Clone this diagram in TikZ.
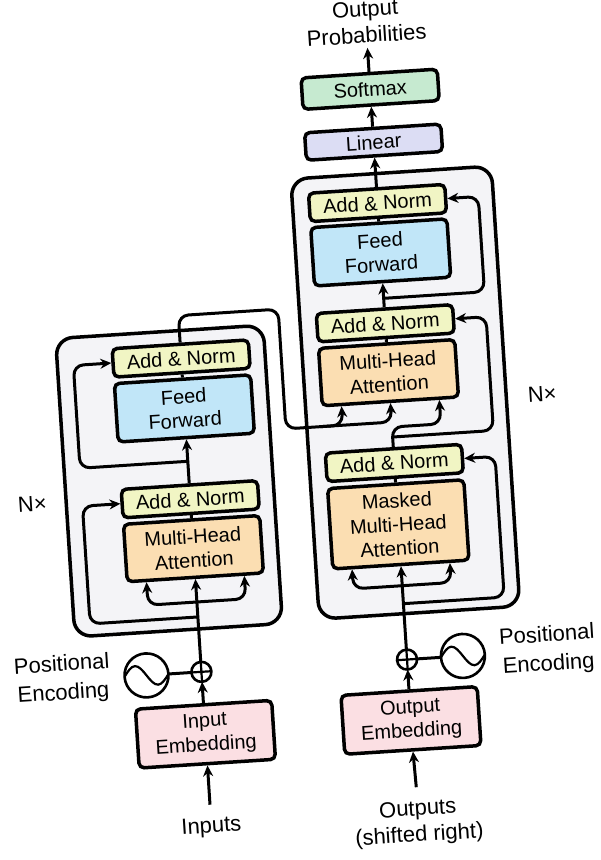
\documentclass[tikz,border=0pt]{standalone}
\usepackage{fontspec}
\setmainfont{Liberation Sans}
\usetikzlibrary{arrows.meta}
\definecolor{normfill}{RGB}{241,245,196}
\definecolor{fffill}{RGB}{193,230,248}
\definecolor{attnfill}{RGB}{251,222,178}
\definecolor{embfill}{RGB}{251,223,227}
\definecolor{linfill}{RGB}{220,221,244}
\definecolor{smfill}{RGB}{198,234,208}
\definecolor{stackfill}{RGB}{244,244,247}
\tikzset{blk/.style={draw,line width=3.5pt,rounded corners=5pt,minimum width=136.5pt,inner sep=0pt,align=center,font=\fontsize{20}{24}\selectfont},
  norm/.style={blk,fill=normfill,minimum height=28.5pt},
  ffn/.style={blk,fill=fffill,minimum height=58.5pt},
  attn/.style={blk,fill=attnfill,minimum height=57.5pt},
  emb/.style={blk,fill=embfill,minimum height=59pt},
  stack/.style={draw,line width=3.5pt,rounded corners=17pt,fill=stackfill,inner sep=0pt},
  ring/.style={draw,circle,line width=2.6pt,fill=white,inner sep=0pt,outer sep=0pt},
  wire/.style={line width=3pt,rounded corners=10pt},
  flow/.style={wire,-{Stealth[length=11pt,width=10pt]}},
  labeltext/.style={font=\fontsize{22}{26}\selectfont,align=center,inner sep=2pt}}

\begin{document}
\begin{tikzpicture}[x=1pt,y=-1pt]
\useasboundingbox (0,0) rectangle (601,860);
\begin{scope}[rotate around={3.7:(300,430)},transform shape]
\node[stack,minimum width=208pt,minimum height=299pt] (encstack) at (166,472.5) {};
\node[stack,minimum width=201pt,minimum height=441pt] (decstack) at (407.5,399.5) {};

\node[norm] (en2) at (186,351) {Add \& Norm};
\node[ffn] (eff) at (186,401) {Feed\\Forward};
\node[norm] (en1) at (186,492) {Add \& Norm};
\node[attn] (emha) at (186,541.5) {Multi-Head\\Attention};
\node[emb] (iemb) at (186,727.5) {Input\\Embedding};
\node[ring,minimum size=20pt] (eplus) at (186,665) {};
\node[ring,minimum size=44pt] (esine) at (131,665) {};

\node[blk,fill=smfill,minimum height=31.5pt] (softmax) at (392,94.5) {Softmax};
\node[blk,fill=linfill,minimum height=27.5pt] (linear) at (392,147.5) {Linear};
\node[norm] (dn3) at (392,208.5) {Add \& Norm};
\node[ffn] (dff) at (392,258) {Feed\\Forward};
\node[norm] (dn2) at (392,329) {Add \& Norm};
\node[attn] (dmha) at (392,378.5) {Multi-Head\\Attention};
\node[norm] (dn1) at (392,469) {Add \& Norm};
\node[attn,minimum height=80.5pt] (dmmha) at (392,530.5) {Masked\\Multi-Head\\Attention};
\node[emb] (oemb) at (392,727) {Output\\Embedding};
\node[ring,minimum size=20pt] (dplus) at (392,666) {};
\node[ring,minimum size=44pt] (dsine) at (448,666) {};

\node[labeltext,outer sep=11pt] (inputs) at (186,821) {Inputs};
\node[labeltext,outer sep=11pt] (outputs) at (393,830) {Outputs\\(shifted right)};
\node[labeltext,anchor=south,outer sep=3pt] (probs) at (392,53) {Output\\Probabilities};
\node[labeltext,font=\fontsize{22}{29}\selectfont] (epos) at (47,664) {Positional\\Encoding};
\node[labeltext,font=\fontsize{22}{29}\selectfont] (dpos) at (533,666) {Positional\\Encoding};
\node[labeltext] (enx) at (28,487) {N×};
\node[labeltext] (dnx) at (544,410) {N×};

\coordinate (esplit) at (186,595);
\coordinate (evin) at (137,595);
\coordinate (evtip) at (137,572);
\coordinate (eqin) at (235,595);
\coordinate (eqtip) at (235,572);
\coordinate (eres1) at (186,610);
\coordinate (eres1l) at (78,610);
\coordinate (en1l) at (78,492);
\coordinate (eres2) at (186,454);
\coordinate (eres2l) at (78,454);
\coordinate (en2l) at (78,351);
\coordinate (eout1) at (186,308);
\coordinate (eout2) at (286,308);
\coordinate (eout3) at (286,428);
\coordinate (xjoin) at (320,428);
\coordinate (xvin) at (343,428);
\coordinate (xvtip) at (343,409);
\coordinate (xkin) at (392,428);
\coordinate (xktip) at (392,409);
\coordinate (xq1) at (392,433);
\coordinate (xq2) at (441,433);
\coordinate (xqtip) at (441,409);
\coordinate (dsplit) at (392,592);
\coordinate (dvin) at (343,592);
\coordinate (dvtip) at (343,572.5);
\coordinate (dqin) at (441,592);
\coordinate (dqtip) at (441,572.5);
\coordinate (dres1) at (392,610);
\coordinate (dres1r) at (493,610);
\coordinate (dn1r) at (493,469);
\coordinate (dres2) at (392,443);
\coordinate (dres2r) at (493,443);
\coordinate (dn2r) at (493,329);
\coordinate (dres3) at (392,304);
\coordinate (dres3r) at (493,304);
\coordinate (dn3r) at (493,208.5);

\draw[flow] (inputs.north) -- (iemb.south);
\draw[flow] (iemb.north) -- (eplus.south);
\draw[flow] (eplus.north) -- (emha.south);
\draw[wire] (eplus.west) -- (esine.east);
\draw[wire] (emha.north) -- (en1.south);
\draw[flow] (en1.north) -- (eff.south);
\draw[wire] (eff.north) -- (en2.south);
\foreach \s/\a/\b in {esplit/evin/evtip,esplit/eqin/eqtip,dsplit/dvin/dvtip,dsplit/dqin/dqtip}
  \draw[flow] (\s) -- (\a) -- (\b);
\draw[flow] (eres1) -- (eres1l) -- (en1l) -- (en1.west);
\draw[flow] (eres2) -- (eres2l) -- (en2l) -- (en2.west);
\draw[flow] (en2.north) -- (eout1) -- (eout2) -- (eout3) -- (xvin) -- (xvtip);
\draw[flow] (xjoin) -- (xkin) -- (xktip);

\draw[flow] (outputs.north) -- (oemb.south);
\draw[flow] (oemb.north) -- (dplus.south);
\draw[flow] (dplus.north) -- (dmmha.south);
\draw[wire] (dplus.east) -- (dsine.west);
\draw[wire] (dmmha.north) -- (dn1.south);
\draw[flow] (dn1.north) -- (xq1) -- (xq2) -- (xqtip);
\draw[wire] (dmha.north) -- (dn2.south);
\draw[flow] (dn2.north) -- (dff.south);
\draw[wire] (dff.north) -- (dn3.south);
\draw[flow] (dres1) -- (dres1r) -- (dn1r) -- (dn1.east);
\draw[flow] (dres2) -- (dres2r) -- (dn2r) -- (dn2.east);
\draw[flow] (dres3) -- (dres3r) -- (dn3r) -- (dn3.east);
\draw[flow] (dn3.north) -- (linear.south);
\draw[flow] (linear.north) -- (softmax.south);
\draw[flow] (softmax.north) -- (probs.south);

\draw[line width=2.2pt] (eplus.north) -- (eplus.south) (eplus.west) -- (eplus.east);
\draw[line width=2.2pt] (dplus.north) -- (dplus.south) (dplus.west) -- (dplus.east);
\draw[line width=2.2pt] (esine.west) sin ++(11,-10) cos ++(11,10) sin ++(11,10) cos ++(11,-10);
\draw[line width=2.2pt] (dsine.west) sin ++(11,-10) cos ++(11,10) sin ++(11,10) cos ++(11,-10);
\end{scope}
\end{tikzpicture}
\end{document}
